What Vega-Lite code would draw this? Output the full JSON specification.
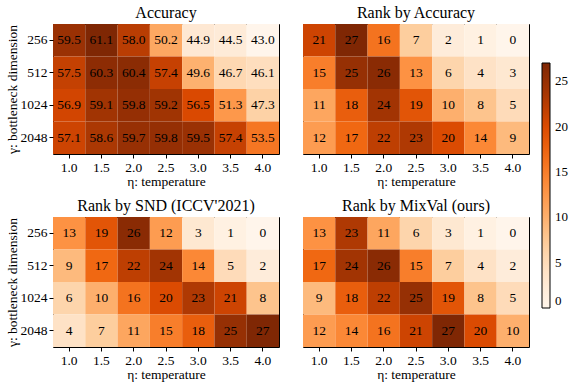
{
  "$schema": "https://vega.github.io/schema/vega-lite/v6.json",
  "padding": {"left": 4, "top": 4, "right": 2, "bottom": 0},
  "spacing": 8,
  "config": {
    "font": "Liberation Serif",
    "view": {"stroke": "black", "strokeWidth": 1},
    "title": {"fontSize": 16, "fontWeight": "normal", "color": "black", "offset": 3},
    "axis": {"labelFontSize": 13.5, "titleFontSize": 13.5, "titleFontWeight": "normal", "labelColor": "black", "titleColor": "black", "tickColor": "black", "tickSize": 4, "domain": false, "labelAngle": 0, "titlePadding": 1, "labelPadding": 2},
    "scale": {"bandPaddingInner": 0, "bandPaddingOuter": 0},
    "concat": {"spacing": 22}
  },
  "datasets": {
    "acc": [
      {"g":"256","e":"1.0","v":59.5},{"g":"256","e":"1.5","v":61.1},{"g":"256","e":"2.0","v":58.0},{"g":"256","e":"2.5","v":50.2},{"g":"256","e":"3.0","v":44.9},{"g":"256","e":"3.5","v":44.5},{"g":"256","e":"4.0","v":43.0},
      {"g":"512","e":"1.0","v":57.5},{"g":"512","e":"1.5","v":60.3},{"g":"512","e":"2.0","v":60.4},{"g":"512","e":"2.5","v":57.4},{"g":"512","e":"3.0","v":49.6},{"g":"512","e":"3.5","v":46.7},{"g":"512","e":"4.0","v":46.1},
      {"g":"1024","e":"1.0","v":56.9},{"g":"1024","e":"1.5","v":59.1},{"g":"1024","e":"2.0","v":59.8},{"g":"1024","e":"2.5","v":59.2},{"g":"1024","e":"3.0","v":56.5},{"g":"1024","e":"3.5","v":51.3},{"g":"1024","e":"4.0","v":47.3},
      {"g":"2048","e":"1.0","v":57.1},{"g":"2048","e":"1.5","v":58.6},{"g":"2048","e":"2.0","v":59.7},{"g":"2048","e":"2.5","v":59.8},{"g":"2048","e":"3.0","v":59.5},{"g":"2048","e":"3.5","v":57.4},{"g":"2048","e":"4.0","v":53.5}
    ],
    "racc": [
      {"g":"256","e":"1.0","v":21},{"g":"256","e":"1.5","v":27},{"g":"256","e":"2.0","v":16},{"g":"256","e":"2.5","v":7},{"g":"256","e":"3.0","v":2},{"g":"256","e":"3.5","v":1},{"g":"256","e":"4.0","v":0},
      {"g":"512","e":"1.0","v":15},{"g":"512","e":"1.5","v":25},{"g":"512","e":"2.0","v":26},{"g":"512","e":"2.5","v":13},{"g":"512","e":"3.0","v":6},{"g":"512","e":"3.5","v":4},{"g":"512","e":"4.0","v":3},
      {"g":"1024","e":"1.0","v":11},{"g":"1024","e":"1.5","v":18},{"g":"1024","e":"2.0","v":24},{"g":"1024","e":"2.5","v":19},{"g":"1024","e":"3.0","v":10},{"g":"1024","e":"3.5","v":8},{"g":"1024","e":"4.0","v":5},
      {"g":"2048","e":"1.0","v":12},{"g":"2048","e":"1.5","v":17},{"g":"2048","e":"2.0","v":22},{"g":"2048","e":"2.5","v":23},{"g":"2048","e":"3.0","v":20},{"g":"2048","e":"3.5","v":14},{"g":"2048","e":"4.0","v":9}
    ],
    "snd": [
      {"g":"256","e":"1.0","v":13},{"g":"256","e":"1.5","v":19},{"g":"256","e":"2.0","v":26},{"g":"256","e":"2.5","v":12},{"g":"256","e":"3.0","v":3},{"g":"256","e":"3.5","v":1},{"g":"256","e":"4.0","v":0},
      {"g":"512","e":"1.0","v":9},{"g":"512","e":"1.5","v":17},{"g":"512","e":"2.0","v":22},{"g":"512","e":"2.5","v":24},{"g":"512","e":"3.0","v":14},{"g":"512","e":"3.5","v":5},{"g":"512","e":"4.0","v":2},
      {"g":"1024","e":"1.0","v":6},{"g":"1024","e":"1.5","v":10},{"g":"1024","e":"2.0","v":16},{"g":"1024","e":"2.5","v":20},{"g":"1024","e":"3.0","v":23},{"g":"1024","e":"3.5","v":21},{"g":"1024","e":"4.0","v":8},
      {"g":"2048","e":"1.0","v":4},{"g":"2048","e":"1.5","v":7},{"g":"2048","e":"2.0","v":11},{"g":"2048","e":"2.5","v":15},{"g":"2048","e":"3.0","v":18},{"g":"2048","e":"3.5","v":25},{"g":"2048","e":"4.0","v":27}
    ],
    "mix": [
      {"g":"256","e":"1.0","v":13},{"g":"256","e":"1.5","v":23},{"g":"256","e":"2.0","v":11},{"g":"256","e":"2.5","v":6},{"g":"256","e":"3.0","v":3},{"g":"256","e":"3.5","v":1},{"g":"256","e":"4.0","v":0},
      {"g":"512","e":"1.0","v":17},{"g":"512","e":"1.5","v":24},{"g":"512","e":"2.0","v":26},{"g":"512","e":"2.5","v":15},{"g":"512","e":"3.0","v":7},{"g":"512","e":"3.5","v":4},{"g":"512","e":"4.0","v":2},
      {"g":"1024","e":"1.0","v":9},{"g":"1024","e":"1.5","v":18},{"g":"1024","e":"2.0","v":22},{"g":"1024","e":"2.5","v":25},{"g":"1024","e":"3.0","v":19},{"g":"1024","e":"3.5","v":8},{"g":"1024","e":"4.0","v":5},
      {"g":"2048","e":"1.0","v":12},{"g":"2048","e":"1.5","v":14},{"g":"2048","e":"2.0","v":16},{"g":"2048","e":"2.5","v":21},{"g":"2048","e":"3.0","v":27},{"g":"2048","e":"3.5","v":20},{"g":"2048","e":"4.0","v":10}
    ]
  },
  "resolve": {"scale": {"color": "shared", "fill": "independent"}},
  "vconcat": [
    {
      "spacing": 22,
      "hconcat": [
        {
          "title": "Accuracy",
          "width": 226, "height": 130,
          "data": {"name": "acc"},
          "encoding": {
            "x": {"field": "e", "type": "ordinal", "title": "η: temperature"},
            "y": {"field": "g", "type": "ordinal", "sort": ["256","512","1024","2048"], "title": "γ: bottleneck dimension"}
          },
          "layer": [
            {"mark": "rect", "encoding": {"fill": {"field": "v", "type": "quantitative", "scale": {"domain": [43.0, 61.1], "range": ["#fff5eb","#fee6ce","#fdd0a2","#fdae6b","#fd8d3c","#f16913","#d94801","#a63603","#7f2704"], "zero": false}, "legend": null}}},
            {"mark": {"type": "text", "fontSize": 13.5, "color": "black"}, "encoding": {"text": {"field": "v", "type": "quantitative", "format": ".1f"}}}
          ]
        },
        {
          "title": "Rank by Accuracy",
          "width": 226, "height": 130,
          "data": {"name": "racc"},
          "encoding": {
            "x": {"field": "e", "type": "ordinal", "title": "η: temperature"},
            "y": {"field": "g", "type": "ordinal", "sort": ["256","512","1024","2048"], "axis": null}
          },
          "layer": [
            {"mark": "rect", "encoding": {"color": {"field": "v", "type": "quantitative", "scale": {"domain": [0, 27], "range": ["#fff5eb","#fee6ce","#fdd0a2","#fdae6b","#fd8d3c","#f16913","#d94801","#a63603","#7f2704"]}}}},
            {"mark": {"type": "text", "fontSize": 13.5, "color": "black"}, "encoding": {"text": {"field": "v", "type": "quantitative"}}}
          ]
        }
      ]
    },
    {
      "spacing": 22,
      "hconcat": [
        {
          "title": "Rank by SND (ICCV'2021)",
          "width": 226, "height": 130,
          "data": {"name": "snd"},
          "encoding": {
            "x": {"field": "e", "type": "ordinal", "title": "η: temperature"},
            "y": {"field": "g", "type": "ordinal", "sort": ["256","512","1024","2048"], "title": "γ: bottleneck dimension"}
          },
          "layer": [
            {"mark": "rect", "encoding": {"color": {"field": "v", "type": "quantitative", "scale": {"domain": [0, 27], "range": ["#fff5eb","#fee6ce","#fdd0a2","#fdae6b","#fd8d3c","#f16913","#d94801","#a63603","#7f2704"]}}}},
            {"mark": {"type": "text", "fontSize": 13.5, "color": "black"}, "encoding": {"text": {"field": "v", "type": "quantitative"}}}
          ]
        },
        {
          "title": "Rank by MixVal (ours)",
          "width": 226, "height": 130,
          "data": {"name": "mix"},
          "encoding": {
            "x": {"field": "e", "type": "ordinal", "title": "η: temperature"},
            "y": {"field": "g", "type": "ordinal", "sort": ["256","512","1024","2048"], "axis": null}
          },
          "layer": [
            {"mark": "rect", "encoding": {"color": {"field": "v", "type": "quantitative", "scale": {"domain": [0, 27], "range": ["#fff5eb","#fee6ce","#fdd0a2","#fdae6b","#fd8d3c","#f16913","#d94801","#a63603","#7f2704"]}, "legend": {"title": null, "orient": "none", "legendX": 489, "legendY": 39, "gradientLength": 245, "gradientThickness": 8, "gradientStrokeColor": "black", "gradientStrokeWidth": 1, "labelFontSize": 13, "labelColor": "black", "values": [0,5,10,15,20,25], "labelOffset": 5}}}},
            {"mark": {"type": "text", "fontSize": 13.5, "color": "black"}, "encoding": {"text": {"field": "v", "type": "quantitative"}}}
          ]
        }
      ]
    }
  ]
}
